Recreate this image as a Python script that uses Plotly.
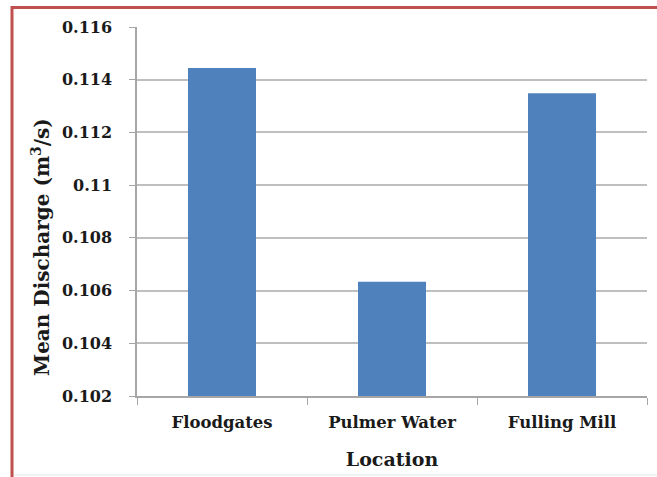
import plotly.graph_objects as go

locations = ["Floodgates", "Pulmer Water", "Fulling Mill"]
mean_discharge = [0.11444, 0.10633, 0.11349]
y_ticks = [0.102, 0.104, 0.106, 0.108, 0.11, 0.112, 0.114, 0.116]
y_tick_labels = ["0.102", "0.104", "0.106", "0.108", "0.11", "0.112", "0.114", "0.116"]

FONT = "DejaVu Serif"
W, H = 657, 477
L, R, T, B = 137, 10, 27, 81

fig = go.Figure(go.Bar(
    x=locations, y=mean_discharge,
    marker=dict(color="#4F81BD", line=dict(width=0)),
    width=0.4,
))

pw = W - L - R
ph = H - T - B

def px_to_paper_x(px):
    return (px - L) / pw

def px_to_paper_y(py):
    return (H - B - py) / ph

fig.update_layout(
    width=W, height=H,
    margin=dict(l=L, r=R, t=T, b=B),
    paper_bgcolor="white", plot_bgcolor="white",
    showlegend=False,
    font=dict(family=FONT, color="#1a1a1a"),
    xaxis=dict(
        type="category",
        showline=True, linecolor="#A6A6A6", linewidth=1.5,
        ticks="outside", tickson="boundaries", ticklen=7, tickcolor="#A6A6A6",
        tickfont=dict(family=FONT, size=16.5, color="#1a1a1a", weight="bold"),
        ticklabelstandoff=10,
        showgrid=False,
        title=dict(text="<b>Location</b>", font=dict(family=FONT, size=19, color="#1a1a1a"), standoff=22),
    ),
    yaxis=dict(
        range=[0.102, 0.116],
        tickvals=y_ticks, ticktext=y_tick_labels,
        showline=True, linecolor="#A6A6A6", linewidth=1.5,
        ticks="outside", ticklen=6, tickcolor="#A6A6A6",
        showgrid=True, gridcolor="#BFBFBF", gridwidth=1.5,
        zeroline=False,
        tickfont=dict(family=FONT, size=16, color="#1a1a1a", weight="bold"),
        ticklabelstandoff=14,
    ),
    annotations=[
        dict(text="<b>Mean Discharge (m<sup>3</sup>/s)</b>", textangle=-90,
             xref="paper", yref="paper",
             x=px_to_paper_x(41), y=px_to_paper_y(247),
             xanchor="center", yanchor="middle", showarrow=False,
             font=dict(family=FONT, size=20, color="#1a1a1a")),
    ],
    shapes=[
        dict(type="line", xref="paper", yref="paper",
             x0=px_to_paper_x(12), x1=px_to_paper_x(700),
             y0=px_to_paper_y(7.5), y1=px_to_paper_y(7.5),
             line=dict(color="#C0504D", width=3)),
        dict(type="line", xref="paper", yref="paper",
             x0=px_to_paper_x(12), x1=px_to_paper_x(12),
             y0=px_to_paper_y(6), y1=px_to_paper_y(500),
             line=dict(color="#C0504D", width=3)),
        dict(type="line", xref="paper", yref="paper",
             x0=px_to_paper_x(14), x1=px_to_paper_x(700),
             y0=px_to_paper_y(475), y1=px_to_paper_y(475),
             line=dict(color="#E6E6E6", width=1)),
    ],
)

fig.write_html("out.html",
               config={"displayModeBar": False},
               post_script="document.body.style.margin='0';document.body.style.padding='0';document.body.style.overflow='hidden';")
